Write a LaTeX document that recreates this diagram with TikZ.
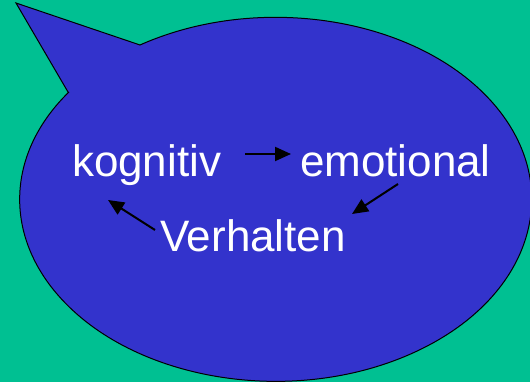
\documentclass[tikz,border=0pt]{standalone}
\usepackage{fontspec}
\setmainfont{Liberation Sans}
\usepackage{tikz}
\usetikzlibrary{arrows.meta}
\definecolor{bggreen}{RGB}{0,192,146}
\definecolor{bubbleblue}{RGB}{51,51,204}

\begin{document}
\begin{tikzpicture}[x=1pt,y=1pt,
word/.style={text=white,font=\fontsize{44}{50}\selectfont,inner sep=0pt,outer sep=0pt,anchor=base west},
arr/.style={-{Triangle[length=16pt,width=14pt]},line width=2pt,black}]
\fill[bggreen](0,0)rectangle(530,382);
\useasboundingbox(0,0)rectangle(530,382);
% speech bubble with tail
\draw[fill=bubbleblue,line width=1pt,line join=miter](68,290)--(16,379)--(140,337)
  arc[start angle=122,end angle=-216,x radius=256,y radius=182]--cycle;
\node[word](kognitiv)at(72,205){kognitiv};
\node[word](emotional)at(300,205){emotional};
\node[word](verhalten)at(160,130){Verhalten};
\draw[arr]([shift={(173,23)}]kognitiv.base west)--([shift={(-9,23)}]emotional.base west);
\draw[arr]([shift={(98,-7)}]emotional.base west)--([shift={(192,38)}]verhalten.base west);
\draw[arr]([shift={(-5,22)}]verhalten.base west)--([shift={(36,-23)}]kognitiv.base west);
\end{tikzpicture}
\end{document}
